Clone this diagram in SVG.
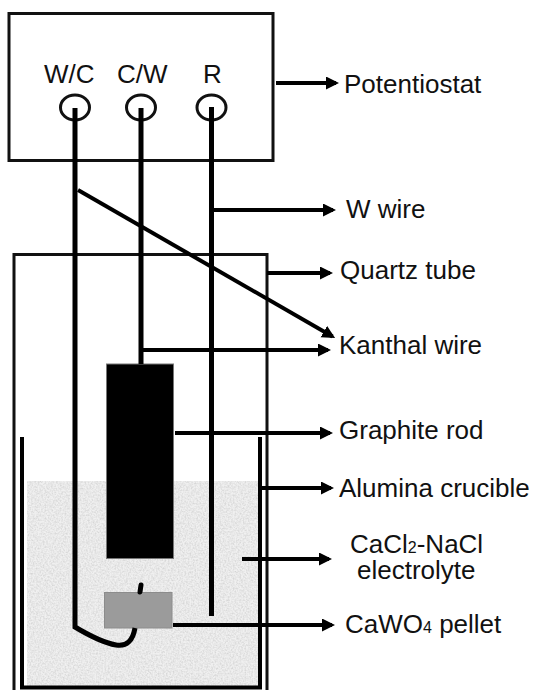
<svg xmlns="http://www.w3.org/2000/svg" width="535" height="690" viewBox="0 0 535 690">
<style>
text{font-family:"Liberation Sans",Arial,sans-serif;font-size:26px;fill:#111}
.b{fill:none;stroke:#111;stroke-width:3}
.w{fill:none;stroke:#000;stroke-width:5}
.l{fill:none;stroke:#000;stroke-width:4}
.ar{fill:none;stroke:#000;stroke-width:4;marker-end:url(#a)}
</style>
<defs>
<marker id="a" markerUnits="userSpaceOnUse" markerWidth="14" markerHeight="14" refX="10" refY="6.500" orient="auto"><path d="M0 0L13 6.500L0 13Z" fill="#000"/></marker>
<filter id="n" x="0" y="0" width="100%" height="100%"><feTurbulence type="fractalNoise" baseFrequency="0.6" numOctaves="2" seed="3"/><feColorMatrix values="0 0 0 0 0.45 0 0 0 0 0.45 0 0 0 0 0.45 0.9 0 0 0 -0.3"/><feComposite in2="SourceGraphic" operator="in"/><feMerge><feMergeNode in="SourceGraphic"/><feMergeNode/></feMerge></filter>
</defs>
<g id="electrolyte"><rect x="27" y="481" width="231" height="205" fill="#f0f0f0" filter="url(#n)"/></g>
<g id="potentiostat">
<rect class="b" x="9" y="13.500" width="264" height="147"/>
<text x="44" y="83">W/C</text><text x="117" y="83">C/W</text><text x="203" y="83">R</text>
<ellipse class="b" cx="75" cy="107.500" rx="14.500" ry="12.500"/>
<ellipse class="b" cx="141" cy="107.500" rx="14.500" ry="12.500"/>
<ellipse class="b" cx="211.500" cy="107.500" rx="14.500" ry="12.500"/>
</g>
<g id="quartz-tube"><path class="b" d="M14 690V254.500H267V690"/></g>
<g id="alumina-crucible"><path class="l" d="M22 437V687.500H260V437"/></g>
<g id="graphite-rod"><rect x="106.500" y="364" width="67" height="194.500" fill="#000" stroke="#777" stroke-width="1"/></g>
<g id="cawo4-pellet"><rect x="104.500" y="592.500" width="67.500" height="35.500" fill="#9b9b9b" stroke="#8c8c8c" stroke-width="1"/></g>
<g id="connectors">
<path class="w" d="M75 108V627C90 636 105 643 116 645C127 647 133 640 135 628"/>
<path class="w" stroke-linecap="round" d="M140 592L141 585"/>
<path class="w" d="M141 108V364"/>
<path class="w" d="M211.500 107V616"/>
<path class="l" d="M78 190L332.500 336.500" marker-end="url(#a)"/>
<path class="ar" d="M276 83H336"/>
<path class="ar" d="M214 210H333"/>
<path class="ar" d="M267 273H330"/>
<path class="ar" d="M143 350H328"/>
<path class="ar" d="M175 433H330"/>
<path class="ar" d="M258 488H331"/>
<path class="ar" d="M242 559H329"/>
<path class="ar" d="M173 625H332"/>
</g>
<g id="labels">
<text x="344" y="93">Potentiostat</text>
<text x="346" y="218">W wire</text>
<text x="340" y="279">Quartz tube</text>
<text x="339" y="354">Kanthal wire</text>
<text x="339" y="439">Graphite rod</text>
<text x="339" y="497">Alumina crucible</text>
<text x="350" y="553">CaCl<tspan font-size="16">2</tspan>-NaCl</text>
<text x="357" y="579">electrolyte</text>
<text x="345" y="633">CaWO<tspan font-size="16">4</tspan> pellet</text>
</g>
</svg>
